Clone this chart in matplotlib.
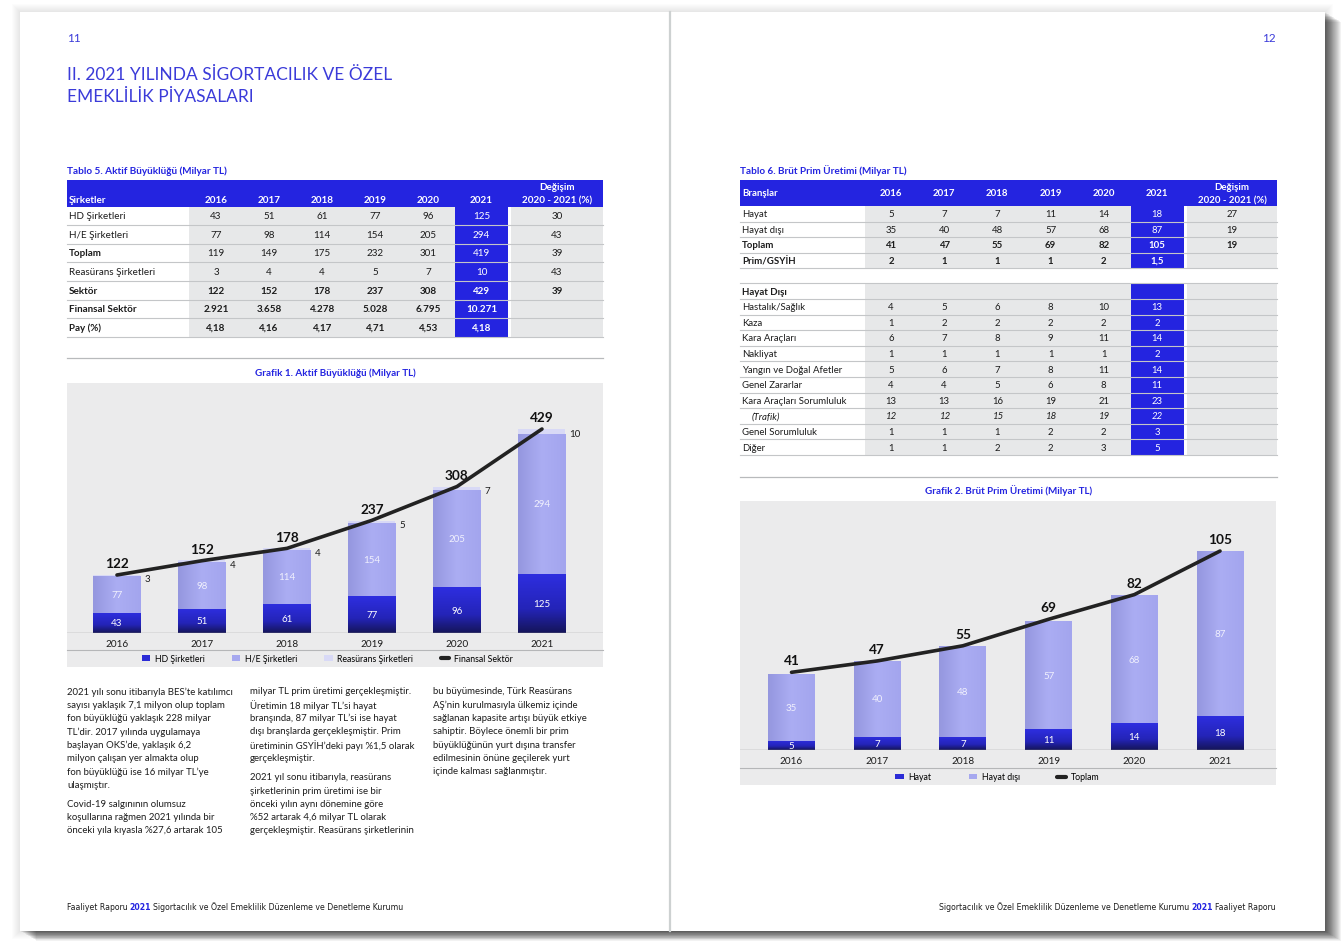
import numpy as np
import matplotlib.pyplot as plt
from matplotlib.patches import Rectangle
from matplotlib.lines import Line2D
from matplotlib.colors import LinearSegmentedColormap

plt.rcParams['font.family'] = ['Lato', 'DejaVu Sans']

W, H = 1344, 945
BLUE = '#2424e0'
TITLE_BLUE = '#3b3bd9'
GRAY = '#e7e8e9'
RULE = '#c4c6c8'
PANEL = '#ebebec'
INK = '#1c1c1c'
HD_C = '#2b2bd6'
HE_C = '#a6a8ef'
RE_C = '#d8d9f6'
FOOT = ['Liberation Sans Narrow', 'DejaVu Sans']

years = ['2016', '2017', '2018', '2019', '2020', '2021']

# Tablo 5 / Grafik 1 - Aktif buyuklugu (milyar TL)
hd = [43, 51, 61, 77, 96, 125]
he = [77, 98, 114, 154, 205, 294]
he_total = [119, 149, 175, 232, 301, 419]
reas = [3, 4, 4, 5, 7, 10]
sektor = [122, 152, 178, 237, 308, 429]
finansal = [2921, 3658, 4278, 5028, 6795, 10271]
pay = [4.18, 4.16, 4.17, 4.71, 4.53, 4.18]
t5_rows = ['HD Şirketleri', 'H/E Şirketleri', 'Toplam', 'Reasürans Şirketleri',
           'Sektör', 'Finansal Sektör', 'Pay (%)']
t5_change = [30, 43, 39, 43, 39, None, None]
t5_bold_labels = ['Toplam', 'Sektör', 'Finansal Sektör', 'Pay (%)']
t5_bold_vals = ['Sektör', 'Finansal Sektör', 'Pay (%)']

# Tablo 6 / Grafik 2 - Brut prim uretimi (milyar TL)
hayat = [5, 7, 7, 11, 14, 18]
hayat_disi = [35, 40, 48, 57, 68, 87]
toplam = [41, 47, 55, 69, 82, 105]
prim_gsyih = [2, 1, 1, 1, 2, 1.5]
t6_rows = ['Hayat', 'Hayat dışı', 'Toplam', 'Prim/GSYİH']
t6_change = [27, 19, 19, None]
t6_bold = ['Toplam', 'Prim/GSYİH']

branch_rows = ['Hastalık/Sağlık', 'Kaza', 'Kara Araçları', 'Nakliyat',
               'Yangın ve Doğal Afetler', 'Genel Zararlar', 'Kara Araçları Sorumluluk',
               '(Trafik)', 'Genel Sorumluluk', 'Diğer']
saglik = [4, 5, 6, 8, 10, 13]
kaza = [1, 2, 2, 2, 2, 2]
kara = [6, 7, 8, 9, 11, 14]
nakliyat = [1, 1, 1, 1, 1, 2]
yangin = [5, 6, 7, 8, 11, 14]
genel_zarar = [4, 4, 5, 6, 8, 11]
kara_sor = [13, 13, 16, 19, 21, 23]
trafik = [12, 12, 15, 18, 19, 22]
genel_sor = [1, 1, 1, 2, 2, 3]
diger = [1, 1, 2, 2, 3, 5]


def fmt(v):
    if v is None:
        return ''
    if isinstance(v, float):
        return f'{v:g}'.replace('.', ',')
    return f'{v:,}'.replace(',', '.')


fig = plt.figure(figsize=(W / 100, H / 100), dpi=100)
bg = fig.add_axes([0, 0, 1, 1])
bg.set_xlim(0, W)
bg.set_ylim(H, 0)
bg.axis('off')


def px_axes(x0, y0, x1, y1):
    return fig.add_axes([x0 / W, 1 - y1 / H, (x1 - x0) / W, (y1 - y0) / H])


def txt(x, y, s, size=6.2, color=INK, weight='normal', ha='left', va='center', style='normal', **kw):
    return bg.text(x, y, s, fontsize=size, color=color, fontweight=weight,
                   ha=ha, va=va, fontstyle=style, **kw)


# ---- the spread: soft glow, drop shadow, pages, gutter
for i in range(1, 9):
    bg.add_patch(Rectangle((20 - i, 13 - i), 1305 + 2 * i, 919 + 2 * i,
                           color='black', alpha=0.012, lw=0))
for i in range(1, 17):
    bg.add_patch(Rectangle((20 + i, 13 + i * 0.6), 1305, 919, color='black', alpha=0.05, lw=0))
bg.add_patch(Rectangle((20, 13), 1305, 919, color='white', lw=0))
bg.plot([670, 670], [13, 932], color='#cdd1d1', lw=1.6)

# ---- page heads
txt(67, 39, '11', size=8.5, color=TITLE_BLUE)
txt(1276, 39, '12', size=8.5, color=TITLE_BLUE, ha='right')
txt(67, 75, 'II. 2021 YILINDA SİGORTACILIK VE ÖZEL', size=12.5, color=TITLE_BLUE)
txt(67, 97, 'EMEKLİLİK PİYASALARI', size=12.5, color=TITLE_BLUE)


# ---- tables
def draw_header(tb, top, bottom, first, first_y, year_y, size):
    bg.add_patch(Rectangle((tb['left'], top), tb['right'] - tb['left'], bottom - top, color=BLUE, lw=0))
    txt(tb['left'] + 2, first_y, first, color='white', weight='bold', size=size)
    for k, yr in enumerate(years):
        txt(tb['cx'][k], year_y, yr, color='white', weight='bold', size=size, ha='center')
    txt(tb['chx'], 187.5, 'Değişim', color='white', weight='bold', size=size, ha='center')
    txt(tb['chx'], 200.5, '2020 - 2021 (%)', color='white', weight='bold', size=size, ha='center')


def draw_row(tb, y, h, label, vals, change=None, bold_label=False, bold_vals=False,
             italic=False, indent=0, size=6.2):
    bg.add_patch(Rectangle((tb['g0'], y), tb['b0'] - tb['g0'], h, color=GRAY, lw=0))
    bg.add_patch(Rectangle((tb['b0'], y), tb['b1'] - tb['b0'], h, color=BLUE, lw=0))
    bg.add_patch(Rectangle((tb['g2'], y), tb['right'] - tb['g2'], h, color=GRAY, lw=0))
    bg.plot([tb['left'], tb['right']], [y + h, y + h], color=RULE, lw=0.8)
    st = 'italic' if italic else 'normal'
    yc = y + h / 2
    txt(tb['left'] + 2 + indent, yc, label, size=size,
        weight='bold' if bold_label else 'normal', style=st)
    wv = 'bold' if bold_vals else 'normal'
    for k, v in enumerate(vals):
        txt(tb['cx'][k], yc, fmt(v), size=size, ha='center',
            color='white' if k == 5 else INK, weight=wv, style=st)
    txt(tb['chx'], yc, fmt(change), size=size, ha='center', weight=wv)


txt(67, 171, 'Tablo 5. Aktif Büyüklüğü (Milyar TL)', size=7.2, color=BLUE, weight='bold')
tb5 = dict(left=67, right=603, g0=189, b0=455, b1=508, g2=511,
           cx=216 + 53.1 * np.arange(6), chx=557)
draw_header(tb5, 181, 207.5, 'Şirketler', 200.5, 200.5, 7.1)
t5_vals = [hd, he, he_total, reas, sektor, finansal, pay]
for r, (lab, vals, ch) in enumerate(zip(t5_rows, t5_vals, t5_change)):
    draw_row(tb5, 207.5 + r * 18.6, 18.6, lab, vals, ch,
             bold_label=lab in t5_bold_labels, bold_vals=lab in t5_bold_vals, size=7.1)

txt(740, 171, 'Tablo 6. Brüt Prim Üretimi (Milyar TL)', size=7.2, color=BLUE, weight='bold')
tb6 = dict(left=740, right=1277, g0=865, b0=1131, b1=1184, g2=1187,
           cx=891 + 53.2 * np.arange(6), chx=1232)
draw_header(tb6, 181, 207, 'Branşlar', 193.5, 193.5, 6.9)
t6_vals = [hayat, hayat_disi, toplam, prim_gsyih]
for r, (lab, vals, ch) in enumerate(zip(t6_rows, t6_vals, t6_change)):
    b = lab in t6_bold
    draw_row(tb6, 207 + r * 15.6, 15.6, lab, vals, ch, bold_label=b, bold_vals=b, size=6.9)

bg.plot([740, 1277], [284.3, 284.3], color=RULE, lw=0.8)
draw_row(tb6, 284.3, 15.6, 'Hayat Dışı', [None] * 6, bold_label=True, size=6.9)
branch_vals = [saglik, kaza, kara, nakliyat, yangin, genel_zarar, kara_sor, trafik, genel_sor, diger]
for r, (lab, vals) in enumerate(zip(branch_rows, branch_vals)):
    it = lab == '(Trafik)'
    draw_row(tb6, 284.3 + (r + 1) * 15.6, 15.6, lab, vals, italic=it,
             indent=10 if it else 0, size=6.9)

bg.plot([67, 603], [359, 359], color='#b8babc', lw=0.9)
bg.plot([740, 1277], [478, 478], color='#b8babc', lw=0.9)

# ---- charts
hd_cmap = LinearSegmentedColormap.from_list('hd', [(0, '#15155a'), (0.4, '#2424b8'), (1, '#2e2ee0')])
lt_cmap = LinearSegmentedColormap.from_list('lt', [(0, '#9597df'), (0.5, '#abadf3'), (1, '#a3a5ee')])


def shade(ax, bars, cmap, vertical=True):
    g = np.linspace(0, 1, 64)
    grad = g.reshape(-1, 1) if vertical else g.reshape(1, -1)
    for b in bars:
        x, y, w, h = b.get_x(), b.get_y(), b.get_width(), b.get_height()
        im = ax.imshow(grad, extent=(x, x + w, y, y + h), origin='lower', cmap=cmap,
                       aspect='auto', zorder=2.1, interpolation='bilinear')
        im.set_clip_path(b)


def style_axes(ax, xlim, ylim):
    ax.set_xlim(*xlim)
    ax.set_ylim(*ylim)
    ax.set_facecolor('none')
    for s in ax.spines.values():
        s.set_visible(False)
    ax.set_yticks([])
    ax.set_xticks(np.arange(6), years)
    ax.tick_params(axis='x', length=0, pad=4, labelsize=7.2, labelcolor=INK)
    ax.axhline(0, color='#9c9c9c', lw=1, zorder=3)


x = np.arange(6)

# Grafik 1
txt(335, 373, 'Grafik 1. Aktif Büyüklüğü (Milyar TL)', size=7.1, color=BLUE, weight='bold', ha='center')
bg.add_patch(Rectangle((67, 384), 536, 283.5, color=PANEL, lw=0))
bg.plot([67, 603], [651, 651], color='#b5b6b8', lw=0.8)
ax1 = px_axes(67, 384, 603, 634)
bw = 0.553
b_hd = ax1.bar(x, hd, bw, color=HD_C, label='HD Şirketleri', zorder=2)
b_he = ax1.bar(x, he, bw, bottom=hd, color=HE_C, label='H/E Şirketleri', zorder=2)
top1 = np.add(hd, he)
b_re = ax1.bar(x, reas, bw, bottom=top1, color=RE_C, label='Reasürans Şirketleri', zorder=2)
shade(ax1, b_hd, hd_cmap)
shade(ax1, b_he, lt_cmap, vertical=False)
ax1.plot(x, sektor, color='#222222', lw=2.6, solid_capstyle='round', zorder=4)
for i in x:
    ax1.text(i, hd[i] / 2, str(hd[i]), color='white', ha='center', va='center', fontsize=7, zorder=5)
    ax1.text(i, hd[i] + he[i] / 2, str(he[i]), color='#f0f0fd', ha='center', va='center', fontsize=7, zorder=5)
    ax1.annotate(str(reas[i]), (i + bw / 2, top1[i] + reas[i]), xytext=(3, -3), textcoords='offset points',
                 ha='left', va='center', fontsize=7, color=INK)
    ax1.annotate(str(sektor[i]), (i, sektor[i]), xytext=(0, 8.5), textcoords='offset points',
                 ha='center', va='center', fontsize=9.8, fontweight='bold', color='#111111')
style_axes(ax1, (-0.588, 5.718), (0, 250 / 0.4755))
h1 = [b_hd, b_he, b_re, Line2D([], [], color='#222222', lw=3, solid_capstyle='round')]
ax1.legend(h1, ['HD Şirketleri', 'H/E Şirketleri', 'Reasürans Şirketleri', 'Finansal Sektör'],
           loc='center', bbox_to_anchor=(327, 659.5), bbox_transform=bg.transData, ncol=4,
           frameon=False, fontsize=6.3, handlelength=1.0, handleheight=0.6, handletextpad=0.5,
           columnspacing=3.1, borderpad=0)

# Grafik 2
txt(1009, 491, 'Grafik 2. Brüt Prim Üretimi (Milyar TL)', size=7.1, color=BLUE, weight='bold', ha='center')
bg.add_patch(Rectangle((740, 502), 536, 284, color=PANEL, lw=0))
bg.plot([740, 1276], [769, 769], color='#b5b6b8', lw=0.8)
ax2 = px_axes(740, 502, 1276, 751)
bw2 = 0.548
b_h = ax2.bar(x, hayat, bw2, color=HD_C, label='Hayat', zorder=2)
b_hd2 = ax2.bar(x, hayat_disi, bw2, bottom=hayat, color=HE_C, label='Hayat dışı', zorder=2)
shade(ax2, b_h, hd_cmap)
shade(ax2, b_hd2, lt_cmap, vertical=False)
ax2.plot(x, toplam, color='#222222', lw=2.6, solid_capstyle='round', zorder=4)
for i in x:
    ax2.text(i, hayat[i] / 2, str(hayat[i]), color='white', ha='center', va='center', fontsize=7, zorder=5)
    ax2.text(i, hayat[i] + hayat_disi[i] / 2, str(hayat_disi[i]), color='#f0f0fd',
             ha='center', va='center', fontsize=7, zorder=5)
    ax2.annotate(str(toplam[i]), (i, toplam[i]), xytext=(0, 8.5), textcoords='offset points',
                 ha='center', va='center', fontsize=9.8, fontweight='bold', color='#111111')
style_axes(ax2, (-0.601, 5.653), (0, 249 / 1.895))
h2 = [b_h, b_hd2, Line2D([], [], color='#222222', lw=3, solid_capstyle='round')]
ax2.legend(h2, ['Hayat', 'Hayat dışı', 'Toplam'],
           loc='center', bbox_to_anchor=(997, 778), bbox_transform=bg.transData, ncol=3,
           frameon=False, fontsize=6.3, handlelength=1.0, handleheight=0.6, handletextpad=0.5,
           columnspacing=4.3, borderpad=0)

# ---- body text
col1 = [["2021 yılı sonu itibarıyla BES’te katılımcı", "sayısı yaklaşık 7,1 milyon olup toplam",
         "fon büyüklüğü yaklaşık 228 milyar", "TL’dir. 2017 yılında uygulamaya",
         "başlayan OKS’de, yaklaşık 6,2", "milyon çalışan yer almakta olup",
         "fon büyüklüğü ise 16 milyar TL’ye", "ulaşmıştır."],
        ["Covid-19 salgınının olumsuz", "koşullarına rağmen 2021 yılında bir",
         "önceki yıla kıyasla %27,6 artarak 105"]]
col2 = [["milyar TL prim üretimi gerçekleşmiştir.", "Üretimin 18 milyar TL’si hayat",
         "branşında, 87 milyar TL’si ise hayat", "dışı branşlarda gerçekleşmiştir. Prim",
         "üretiminin GSYİH’deki payı %1,5 olarak", "gerçekleşmiştir."],
        ["2021 yıl sonu itibarıyla, reasürans", "şirketlerinin prim üretimi ise bir",
         "önceki yılın aynı dönemine göre", "%52 artarak 4,6 milyar TL olarak",
         "gerçekleşmiştir. Reasürans şirketlerinin"]]
col3 = [["bu büyümesinde, Türk Reasürans", "AŞ’nin kurulmasıyla ülkemiz içinde",
         "sağlanan kapasite artışı büyük etkiye", "sahiptir. Böylece önemli bir prim",
         "büyüklüğünün yurt dışına transfer", "edilmesinin önüne geçilerek yurt",
         "içinde kalması sağlanmıştır."]]

for cx0, col in zip([67, 250, 433], [col1, col2, col3]):
    y = 692
    for para in col:
        for line in para:
            txt(cx0, y, line, size=6.9)
            y += 13.3
        y += 6

# ---- footers
fs = 5.6
t1 = bg.text(67, 908, 'Faaliyet Raporu', fontsize=fs, family=FOOT, color=INK, va='center')
t2 = bg.annotate('2021', xy=(1, 0), xycoords=t1, xytext=(1.5, 0), textcoords='offset points',
                 ha='left', va='bottom', fontsize=fs, family=FOOT, color=BLUE, fontweight='bold')
bg.annotate('Sigortacılık ve Özel Emeklilik Düzenleme ve Denetleme Kurumu', xy=(1, 0), xycoords=t2,
            xytext=(1.5, 0), textcoords='offset points', ha='left', va='bottom',
            fontsize=fs, family=FOOT, color=INK)
r3 = bg.text(1276, 908, 'Faaliyet Raporu', fontsize=fs, family=FOOT, color=INK, va='center', ha='right')
r2 = bg.annotate('2021', xy=(0, 0), xycoords=r3, xytext=(-1.5, 0), textcoords='offset points',
                 ha='right', va='bottom', fontsize=fs, family=FOOT, color=BLUE, fontweight='bold')
bg.annotate('Sigortacılık ve Özel Emeklilik Düzenleme ve Denetleme Kurumu', xy=(0, 0), xycoords=r2,
            xytext=(-1.5, 0), textcoords='offset points', ha='right', va='bottom',
            fontsize=fs, family=FOOT, color=INK)

fig.savefig('out.png', dpi=100, facecolor='white')
